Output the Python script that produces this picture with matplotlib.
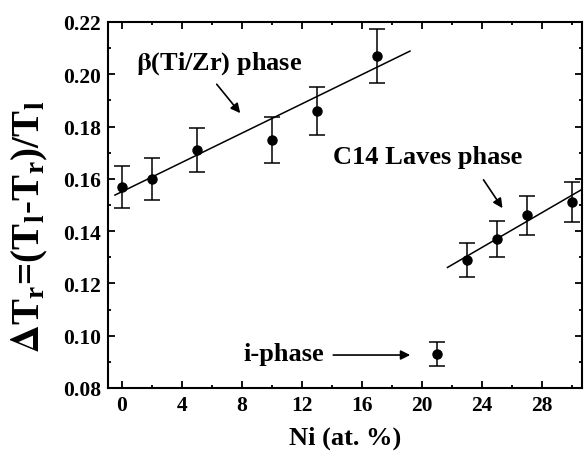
import matplotlib
matplotlib.use("Agg")
import matplotlib.pyplot as plt
import numpy as np
from matplotlib.ticker import MultipleLocator, FormatStrFormatter

plt.rcParams['font.family'] = ['Liberation Serif', 'DejaVu Serif']
plt.rcParams['font.weight'] = 'bold'
plt.rcParams['mathtext.fontset'] = 'stix'

# beta(Ti/Zr) phase
ni_beta = [0, 2, 5, 10, 13, 17]
dt_beta = [0.157, 0.160, 0.171, 0.175, 0.186, 0.207]
err_beta = [0.008, 0.008, 0.0085, 0.0088, 0.0093, 0.0103]

# C14 Laves phase
ni_laves = [23, 25, 27, 30]
dt_laves = [0.129, 0.137, 0.146, 0.151]
err_laves = [0.0065, 0.0068, 0.0074, 0.0076]

# i-phase
ni_i = [21]
dt_i = [0.093]
err_i = [0.0047]

# linear fits (slope, intercept, x-range)
fit_beta = (0.0028, 0.1551, (-0.47, 19.2))
fit_laves = (0.00333, 0.1261 - 0.00333 * 21.7, (21.7, 30.6))

fig = plt.figure(figsize=(5.84, 4.56), dpi=100)
ax = fig.add_axes([0.185, 0.147, 0.8116, 0.8026])

ekw = dict(fmt='o', color='black', ms=6.5, capsize=5.5, elinewidth=1.1, capthick=1.1)
ax.errorbar(ni_beta, dt_beta, yerr=err_beta, **ekw)
ax.errorbar(ni_laves, dt_laves, yerr=err_laves, **ekw)
ax.errorbar(ni_i, dt_i, yerr=err_i, **ekw)

for slope, icpt, (x0, x1) in (fit_beta, fit_laves):
    xs = np.array([x0, x1])
    ax.plot(xs, icpt + slope * xs, color='black', lw=1.1)

ax.set_xlim(-0.93, 30.67)
ax.set_ylim(0.08, 0.22)
ax.xaxis.set_major_locator(MultipleLocator(4))
ax.xaxis.set_minor_locator(MultipleLocator(2))
ax.yaxis.set_major_locator(MultipleLocator(0.02))
ax.yaxis.set_minor_locator(MultipleLocator(0.01))
ax.yaxis.set_major_formatter(FormatStrFormatter('%.2f'))
ax.tick_params(which='both', direction='in', top=True, right=True, width=1.3)
ax.tick_params(which='major', length=5, labelsize=15.5, pad=5)
ax.tick_params(which='minor', length=2.5)
for lbl in ax.get_xticklabels() + ax.get_yticklabels():
    lbl.set_fontweight('bold')
for s in ax.spines.values():
    s.set_linewidth(1.5)

ax.set_xlabel('Ni (at. %)', fontsize=19, fontweight='bold', labelpad=8)
ax.set_ylabel(r'$\Delta$T$_\mathregular{r}$=(T$_\mathregular{l}$-T$_\mathregular{r}$)/T$_\mathregular{l}$',
              fontsize=28, fontweight='bold')
ax.yaxis.set_label_coords(-0.122, 0.443)

akw = dict(arrowstyle='-|>', color='black', lw=1.2, mutation_scale=14)
ax.annotate('', xy=(8.0, 0.1843), xytext=(6.2, 0.197), arrowprops=akw)
ax.text(6.5, 0.2044, r'$\mathrm{\beta}$(Ti/Zr) phase', fontsize=19, fontweight='bold',
        ha='center', va='center')
ax.annotate('', xy=(25.47, 0.1479), xytext=(24.0, 0.1605), arrowprops=akw)
ax.text(20.4, 0.1686, 'C14 Laves phase', fontsize=19, fontweight='bold',
        ha='center', va='center')
ax.annotate('', xy=(19.4, 0.0926), xytext=(13.9, 0.0926), arrowprops=akw)
ax.text(10.8, 0.0931, 'i-phase', fontsize=19, fontweight='bold',
        ha='center', va='center')

fig.savefig('out.png', dpi=100)
